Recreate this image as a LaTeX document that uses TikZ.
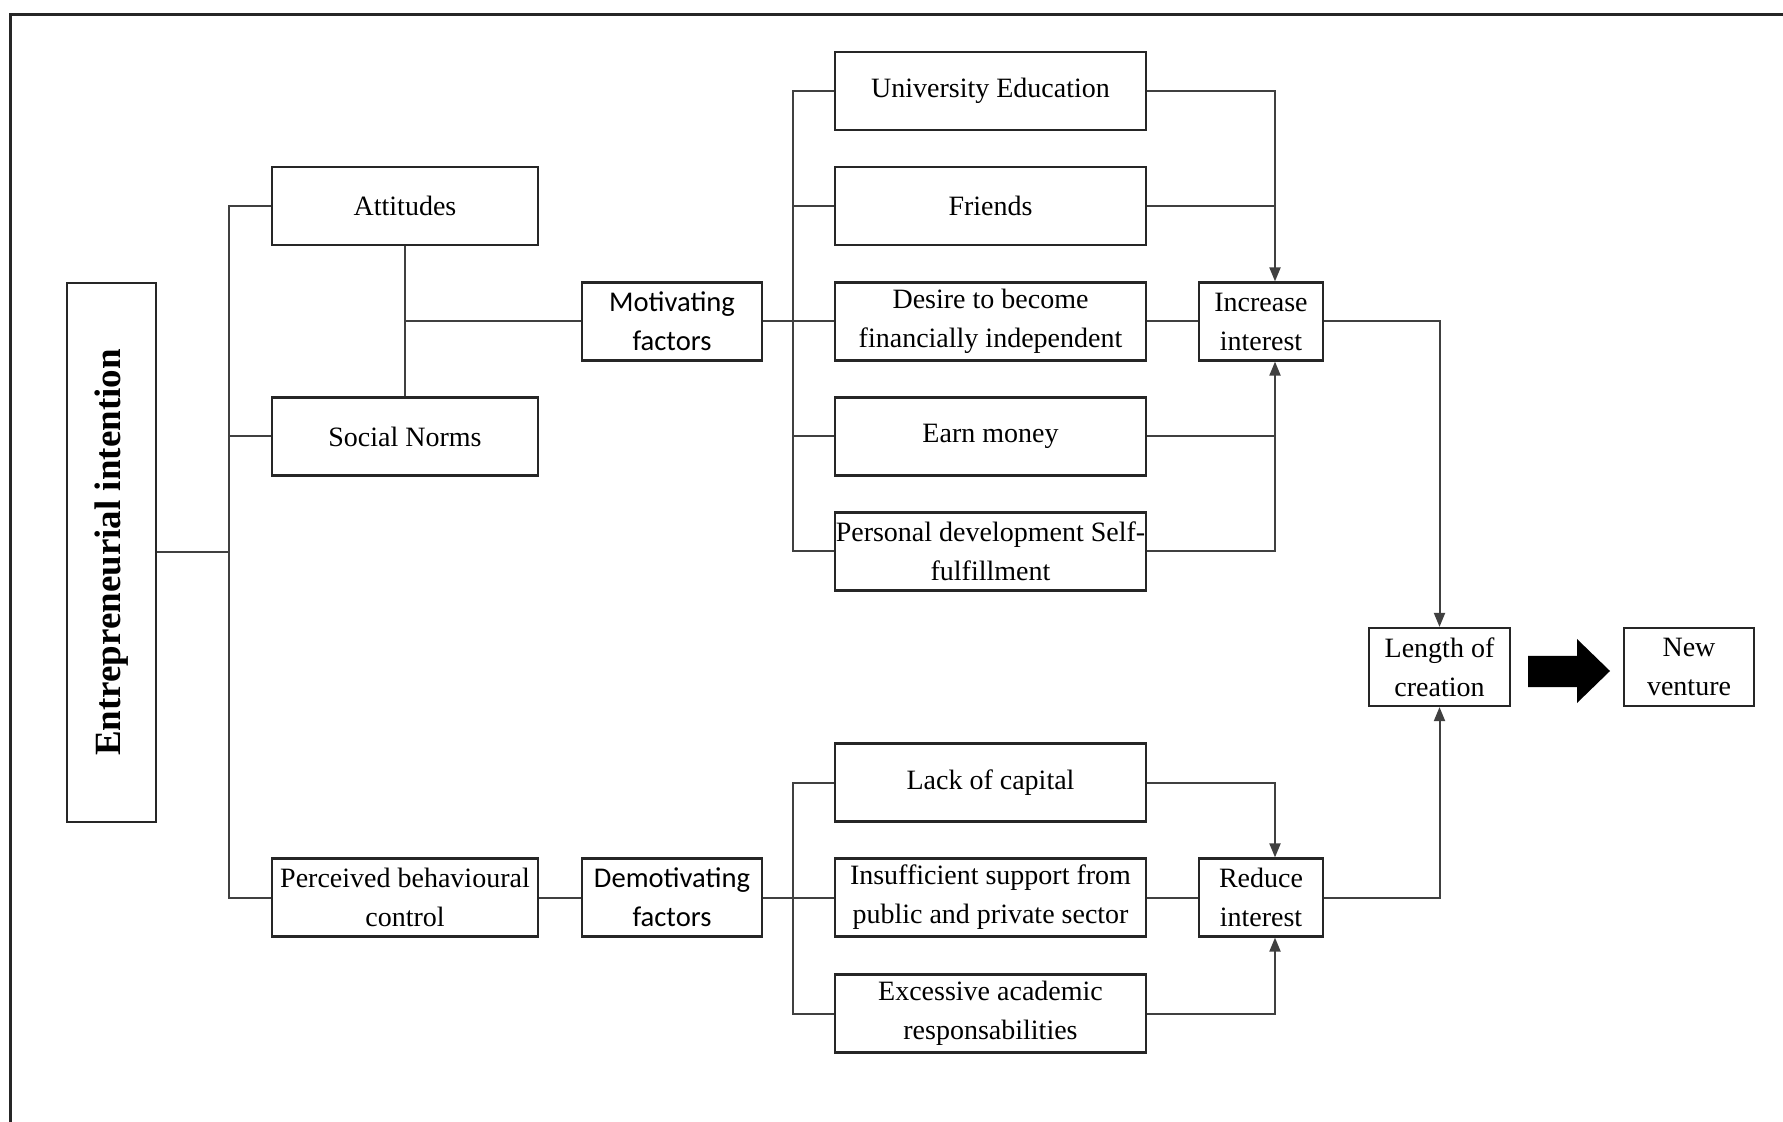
\documentclass[tikz,border=0pt]{standalone}
\usepackage{fontspec}
\setmainfont{Liberation Serif}
\newfontfamily\calib{Carlito}
\usetikzlibrary{arrows.meta}
\begin{document}
\begin{tikzpicture}[x=0.5pt,y=-0.5pt,
  box/.style={draw=black!85, line width=1.1pt, inner sep=0pt, minimum height=39pt, align=center, font=\fontsize{14}{19.5}\selectfont},
  widebox/.style={box, minimum width=155.5pt},
  midbox/.style={box, minimum width=133pt},
  sansbox/.style={box, minimum width=90pt, font=\calib\fontsize{14.3}{19.5}\selectfont},
  smallbox/.style={box, minimum width=62pt},
  conn/.style={draw=black!75, line width=1pt},
  arr/.style={conn, -{Triangle[length=7pt,width=5.5pt]}}]
\useasboundingbox (0,0) rectangle (1783,1122);
\draw[line width=1.4pt, black!85] (1783,14.5) -- (10.5,14.5) -- (10.5,1122);

% nodes
\node[box, minimum width=44.5pt, minimum height=269.5pt] (EI) at (111.5,552.5) {};
\node[rotate=90, inner sep=0pt, font=\fontsize{18.5}{22}\selectfont\bfseries] (EItext) at (EI.center) {Entrepreneurial intention};

\node[midbox] (Att) at (405,206) {Attitudes};
\node[midbox] (SN) at (405,436.5) {Social Norms};
\node[midbox] (PBC) at (405,897.5) {Perceived behavioural\\control};

\node[sansbox] (Mot) at (672,321.5) {Motivating\\factors};
\node[sansbox] (Demot) at (672,897.5) {Demotivating\\factors};

\node[widebox] (Uni) at (990.5,91) {University Education};
\node[widebox] (Fri) at (990.5,206) {Friends};
\node[widebox] (Des) at (990.5,321.5) {Desire to become\\financially independent};
\node[widebox] (Earn) at (990.5,436.5) {Earn money};
\node[widebox] (Pers) at (990.5,551.5) {Personal development Self-\\fulfillment};
\node[widebox] (Lack) at (990.5,782.5) {Lack of capital};
\node[widebox] (Ins) at (990.5,897.5) {Insufficient support from\\public and private sector};
\node[widebox] (Exc) at (990.5,1013.5) {Excessive academic\\responsabilities};

\node[smallbox] (Inc) at (1261,321.5) {Increase\\interest};
\node[smallbox] (Red) at (1261,897.5) {Reduce\\interest};

\node[box, minimum width=70.5pt] (Len) at (1439.5,667) {Length of\\creation};
\node[box, minimum width=65pt] (New) at (1689,667) {New\\venture};

% block arrow between Length of creation and New venture
\fill[black] (1528,656) -- (1577,656) -- (1577,639) -- (1610,671) -- (1577,703) -- (1577,687) -- (1528,687) -- cycle;

% bus coordinates
\coordinate (bL) at (229,0);
\coordinate (bM) at (793,0);
\coordinate (bR) at (1275,0);

% left bus
\draw[conn] (EI.east) -- (EI.east -| bL);
\draw[conn] (Att.west) -- (Att.west -| bL) -- (PBC.west -| bL) -- (PBC.west);
\draw[conn] (SN.west) -- (SN.west -| bL);

% attitudes / social norms to motivating
\draw[conn] (Att.south) -- (SN.north);
\draw[conn] (Mot.west) -- (Mot.west -| Att.south);
\draw[conn] (PBC.east) -- (Demot.west);

% motivating bus
\draw[conn] (Mot.east) -- (Des.west);
\draw[conn] (Uni.west) -- (Uni.west -| bM) -- (Pers.west -| bM) -- (Pers.west);
\draw[conn] (Fri.west) -- (Fri.west -| bM);
\draw[conn] (Earn.west) -- (Earn.west -| bM);

% demotivating bus
\draw[conn] (Demot.east) -- (Ins.west);
\draw[conn] (Lack.west) -- (Lack.west -| bM) -- (Exc.west -| bM) -- (Exc.west);

% to increase interest
\draw[arr] (Uni.east) -- (Uni.east -| bR) -- (Inc.north -| bR);
\draw[conn] (Fri.east) -- (Fri.east -| bR);
\draw[conn] (Des.east) -- (Inc.west);
\draw[arr] (Pers.east) -- (Pers.east -| bR) -- (Inc.south -| bR);
\draw[conn] (Earn.east) -- (Earn.east -| bR);

% to reduce interest
\draw[arr] (Lack.east) -- (Lack.east -| bR) -- (Red.north -| bR);
\draw[conn] (Ins.east) -- (Red.west);
\draw[arr] (Exc.east) -- (Exc.east -| bR) -- (Red.south -| bR);

% to length of creation
\draw[arr] (Inc.east) -| (Len.north);
\draw[arr] (Red.east) -| (Len.south);
\end{tikzpicture}
\end{document}
